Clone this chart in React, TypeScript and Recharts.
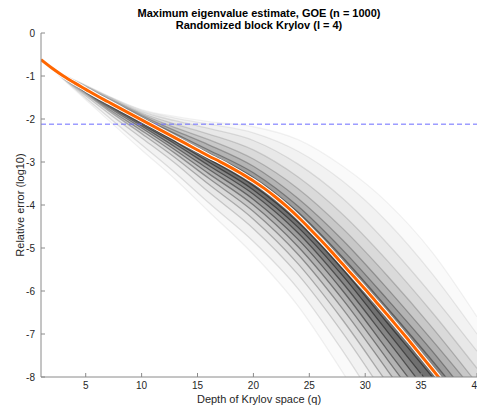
import React from 'react';
import { ComposedChart, Line, Area, XAxis, YAxis, ReferenceLine } from 'recharts';

const TITLE_1 = 'Maximum eigenvalue estimate, GOE (n = 1000)';
const TITLE_2 = 'Randomized block Krylov (l = 4)';
const X_LABEL = 'Depth of Krylov space (q)';
const Y_LABEL = 'Relative error (log10)';

const X_TICKS = [5, 10, 15, 20, 25, 30, 35, 40];
const Y_TICKS = [-8, -7, -6, -5, -4, -3, -2, -1, 0];
const THRESHOLD = -2.12;

// depths at which the individual trials were read
const TRIAL_DEPTHS = [1, 3, 5, 7, 10, 13, 16, 20, 24, 28, 32, 36, 40];
// representative trials (log10 relative error), slowest to fastest
const TRIALS = [
  [-0.62, -0.96, -1.21, -1.46, -1.78, -1.94, -2.06, -2.18, -2.48, -3.1, -3.95, -5.1, -6.6],
  [-0.62, -0.96, -1.22, -1.47, -1.8, -1.98, -2.12, -2.32, -2.75, -3.45, -4.4, -5.6, -7.0],
  [-0.62, -0.97, -1.23, -1.48, -1.83, -2.04, -2.22, -2.5, -3.05, -3.85, -4.9, -6.1, -7.4],
  [-0.62, -0.97, -1.24, -1.5, -1.86, -2.12, -2.35, -2.72, -3.35, -4.22, -5.3, -6.5, -7.8],
  [-0.62, -0.98, -1.26, -1.52, -1.89, -2.2, -2.48, -2.93, -3.62, -4.55, -5.65, -6.85, -8.15],
  [-0.62, -0.98, -1.27, -1.54, -1.92, -2.27, -2.6, -3.1, -3.85, -4.82, -5.95, -7.15, -8.4],
  [-0.62, -0.99, -1.28, -1.56, -1.96, -2.34, -2.72, -3.25, -4.03, -5.05, -6.2, -7.4, -8.7],
  [-0.62, -0.99, -1.3, -1.58, -1.99, -2.4, -2.8, -3.36, -4.17, -5.22, -6.4, -7.62, -8.9],
  [-0.62, -1.0, -1.31, -1.6, -2.02, -2.44, -2.86, -3.44, -4.28, -5.38, -6.56, -7.82, -9.1],
  [-0.62, -1.0, -1.32, -1.62, -2.05, -2.48, -2.93, -3.55, -4.4, -5.5, -6.75, -8.0, -9.3],
  [-0.62, -1.01, -1.33, -1.64, -2.08, -2.53, -3.0, -3.65, -4.52, -5.65, -6.95, -8.25, -9.5],
  [-0.62, -1.01, -1.34, -1.66, -2.12, -2.58, -3.08, -3.75, -4.65, -5.82, -7.15, -8.5, -9.8],
  [-0.62, -1.02, -1.36, -1.69, -2.16, -2.65, -3.17, -3.87, -4.8, -6.0, -7.38, -8.75, -10.1],
  [-0.62, -1.02, -1.37, -1.72, -2.21, -2.72, -3.27, -4.0, -4.97, -6.2, -7.6, -9.0, -10.4],
  [-0.62, -1.03, -1.39, -1.76, -2.27, -2.8, -3.38, -4.15, -5.15, -6.42, -7.85, -9.3, -10.7],
  [-0.62, -1.04, -1.42, -1.8, -2.34, -2.9, -3.52, -4.33, -5.37, -6.68, -8.15, -9.6, -11.0],
  [-0.62, -1.05, -1.46, -1.86, -2.44, -3.03, -3.7, -4.55, -5.62, -6.98, -8.5, -10.0, -11.5],
  [-0.62, -1.07, -1.51, -1.95, -2.6, -3.25, -3.95, -4.85, -5.95, -7.4, -9.0, -10.5, -12.0],
  [-0.62, -1.08, -1.55, -2.02, -2.72, -3.4, -4.15, -5.15, -6.35, -7.9, -9.6, -11.0, -12.5],
];

const MEDIAN_DEPTHS = [
  1, 2, 3, 4, 5, 6, 7, 8, 9, 10, 11, 12, 13, 14, 15, 16, 17, 18, 19, 20,
  21, 22, 23, 24, 25, 26, 27, 28, 29, 30, 31, 32, 33, 34, 35, 36, 37,
];
const MEDIAN_ERRORS = [
  -0.62, -0.82, -1.0, -1.16, -1.31, -1.46, -1.6, -1.74, -1.88, -2.02,
  -2.16, -2.3, -2.44, -2.58, -2.72, -2.86, -2.99, -3.13, -3.28, -3.44,
  -3.62, -3.82, -4.04, -4.28, -4.54, -4.81, -5.09, -5.38, -5.67, -5.96,
  -6.26, -6.56, -6.87, -7.18, -7.5, -7.82, -8.14,
];

// styles (kept apart from the data)
const LINE_OPACITY = [0.05, 0.07, 0.1, 0.13, 0.18, 0.24, 0.3, 0.36, 0.42, 0.45, 0.45, 0.45, 0.42, 0.38, 0.32, 0.25, 0.17, 0.11, 0.06];
const BAND_OPACITY = [0.02, 0.03, 0.04, 0.06, 0.08, 0.1, 0.12, 0.14, 0.16];

const rows = TRIAL_DEPTHS.map((x, i) => {
  const r: Record<string, any> = { x };
  TRIALS.forEach((t, k) => {
    r['t' + k] = t[i];
  });
  BAND_OPACITY.forEach((_, k) => {
    r['b' + k] = [TRIALS[TRIALS.length - 1 - k][i], TRIALS[k][i]];
  });
  return r;
});
const medianRows = MEDIAN_DEPTHS.map((x, i) => ({ x, m: MEDIAN_ERRORS[i] }));

const FONT = '"Liberation Sans", Arial, Helvetica, sans-serif';
const AXIS_COLOR = '#8a8a8a';
const TEXT_COLOR = '#262626';

export default function App() {
  return (
    <div
      style={{
        position: 'absolute',
        left: 0,
        top: 0,
        width: 477,
        height: 410,
        overflow: 'hidden',
        background: '#fff',
        fontFamily: FONT,
      }}
    >
      <ComposedChart
        width={500}
        height={410}
        data={rows}
        margin={{ top: 33, right: 23, bottom: 0, left: 0 }}
      >
        <XAxis
          dataKey="x"
          type="number"
          domain={[1, 40]}
          ticks={X_TICKS}
          allowDataOverflow
          height={33}
          stroke={AXIS_COLOR}
          tickSize={-4}
          tickMargin={9}
          tick={{ fontSize: 10, fill: TEXT_COLOR, fontFamily: FONT }}
        />
        <YAxis
          type="number"
          domain={[-8, 0]}
          ticks={Y_TICKS}
          allowDataOverflow
          width={41}
          stroke={AXIS_COLOR}
          tickSize={-4}
          tickMargin={10}
          tick={{ fontSize: 10, fill: TEXT_COLOR, fontFamily: FONT }}
        />
        {BAND_OPACITY.map((op, k) => (
          <Area
            key={'b' + k}
            dataKey={'b' + k}
            type="monotone"
            stroke="none"
            fill="#000"
            fillOpacity={op}
            isAnimationActive={false}
            activeDot={false}
          />
        ))}
        {TRIALS.map((_, k) => (
          <Line
            key={'t' + k}
            dataKey={'t' + k}
            type="monotone"
            stroke="#000"
            strokeOpacity={LINE_OPACITY[k]}
            strokeWidth={1.3}
            dot={false}
            activeDot={false}
            isAnimationActive={false}
          />
        ))}
        <ReferenceLine y={THRESHOLD} stroke="#6b6bff" strokeWidth={1} strokeDasharray="5 3" />
        <Line
          data={medianRows}
          dataKey="m"
          type="monotone"
          stroke="#ffffff"
          strokeWidth={5}
          dot={false}
          activeDot={false}
          isAnimationActive={false}
        />
        <Line
          data={medianRows}
          dataKey="m"
          type="monotone"
          stroke="#ff6600"
          strokeWidth={3}
          dot={false}
          activeDot={false}
          isAnimationActive={false}
        />
      </ComposedChart>
      <div
        style={{
          position: 'absolute',
          left: 259,
          top: 7,
          transform: 'translateX(-50%)',
          whiteSpace: 'nowrap',
          fontWeight: 'bold',
          fontSize: 11,
          lineHeight: '12px',
          color: '#000',
          textAlign: 'center',
        }}
      >
        <div>{TITLE_1}</div>
        <div>{TITLE_2}</div>
      </div>
      <div
        style={{
          position: 'absolute',
          left: 259,
          top: 393,
          transform: 'translateX(-50%)',
          whiteSpace: 'nowrap',
          fontSize: 11,
          lineHeight: '13px',
          color: TEXT_COLOR,
        }}
      >
        {X_LABEL}
      </div>
      <div
        style={{
          position: 'absolute',
          left: 20,
          top: 205,
          transform: 'translate(-50%, -50%) rotate(-90deg)',
          whiteSpace: 'nowrap',
          fontSize: 11,
          lineHeight: '13px',
          color: TEXT_COLOR,
        }}
      >
        {Y_LABEL}
      </div>
    </div>
  );
}
